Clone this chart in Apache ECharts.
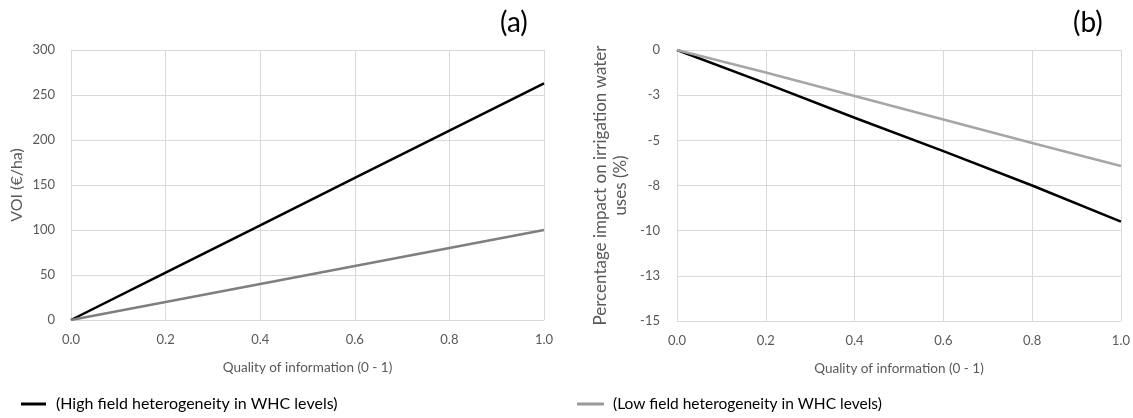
<!DOCTYPE html>
<html><head><meta charset="utf-8">
<script src="https://cdn.jsdelivr.net/npm/echarts@6/dist/echarts.min.js"></script>
<style>html,body{margin:0;padding:0;background:#fff}#c{width:1133px;height:418px}</style>
</head><body><div id="c"></div>
<script>
const quality = [0, 0.2, 0.4, 0.6, 0.8, 1.0];
const voiHigh = [0, 52.6, 105.2, 157.8, 210.4, 263];
const voiLow = [0, 20, 40, 60, 80, 100];
const waterHigh = [0, -1.85, -3.75, -5.6, -7.5, -9.5];
const waterLow = [0, -1.25, -2.55, -3.85, -5.15, -6.42];
const bTicks = {'0':'0','-2.5':'-3','-5':'-5','-7.5':'-8','-10':'-10','-12.5':'-13','-15':'-15'};
const nameHigh = '(High field heterogeneity in WHC levels)';
const nameLow = '(Low field heterogeneity in WHC levels)';

const F = 'Lato, "Open Sans", sans-serif';
const pair = (xs, ys) => xs.map((x, i) => [x, ys[i]]);
const axisLbl = {color:'#595959', fontSize:13, fontFamily:F};
const split = {show:true, lineStyle:{color:'#d9d9d9', width:1}};
function xAx(gi){
  return {type:'value', gridIndex:gi, min:0, max:1, interval:0.2,
    name:'Quality of information (0 - 1)', nameLocation:'middle', nameGap:41,
    nameTextStyle:{color:'#595959', fontSize:13.5, fontFamily:F},
    axisLine:{show:true, lineStyle:{color:'#d9d9d9'}}, axisTick:{show:false},
    axisLabel:Object.assign({formatter:v=>v.toFixed(1), margin:13}, axisLbl),
    splitLine:split};
}
const chart = echarts.init(document.getElementById('c'));
chart.setOption({
  animation:false,
  title:[
    {text:'(a)', left:495, top:4, textStyle:{fontSize:28, fontWeight:'normal', color:'#000', fontFamily:F}},
    {text:'(b)', left:1068, top:4, textStyle:{fontSize:28, fontWeight:'normal', color:'#000', fontFamily:F}}
  ],
  grid:[
    {left:71, right:589, top:50, bottom:98},
    {left:677, right:10, top:50, bottom:97}
  ],
  xAxis:[xAx(0), xAx(1)],
  yAxis:[
    {type:'value', gridIndex:0, min:0, max:300, interval:50,
     name:'VOI (€/ha)', nameLocation:'middle', nameGap:46,
     nameTextStyle:{color:'#595959', fontSize:16, fontFamily:F},
     axisLine:{show:false}, axisTick:{show:false}, axisLabel:Object.assign({margin:16}, axisLbl), splitLine:split},
    {type:'value', gridIndex:1, min:-15, max:0, interval:2.5,
     name:'Percentage impact on irrigation water\nuses (%)', nameLocation:'middle', nameGap:46,
     nameTextStyle:{color:'#595959', fontSize:17, fontFamily:F, lineHeight:20},
     axisLine:{show:false}, axisTick:{show:false},
     axisLabel:Object.assign({margin:17, formatter:v=>bTicks[String(v)] ?? String(v)}, axisLbl), splitLine:split}
  ],
  legend:[
    {left:16, top:391, data:[nameHigh], itemWidth:25, itemHeight:3, icon:'rect',
     textStyle:{fontSize:16, color:'#000', fontFamily:F, padding:[0,0,0,5]}},
    {left:572, top:391, data:[nameLow], itemWidth:27, itemHeight:3, icon:'rect',
     textStyle:{fontSize:15.5, color:'#000', fontFamily:F, padding:[0,0,0,4]}}
  ],
  series:[
    {name:nameHigh, type:'line', xAxisIndex:0, yAxisIndex:0, data:pair(quality, voiHigh), symbol:'none',
     lineStyle:{color:'#000', width:2.5}, itemStyle:{color:'#000'}},
    {name:nameLow, type:'line', xAxisIndex:0, yAxisIndex:0, data:pair(quality, voiLow), symbol:'none',
     lineStyle:{color:'#7f7f7f', width:2.5}, itemStyle:{color:'#999'}},
    {name:nameHigh, type:'line', xAxisIndex:1, yAxisIndex:1, data:pair(quality, waterHigh), symbol:'none',
     lineStyle:{color:'#000', width:2.5}, itemStyle:{color:'#000'}},
    {name:nameLow, type:'line', xAxisIndex:1, yAxisIndex:1, data:pair(quality, waterLow), symbol:'none',
     lineStyle:{color:'#a6a6a6', width:2.5}, itemStyle:{color:'#999'}}
  ]
});
</script></body></html>
